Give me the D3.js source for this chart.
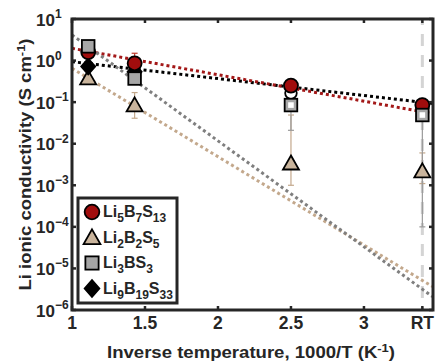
<!DOCTYPE html>
<html>
<head>
<meta charset="utf-8">
<script src="https://cdn.jsdelivr.net/npm/d3@7"></script>
<style>
  html, body { margin: 0; padding: 0; background: #fff; }
  svg { display: block; font-family: Arial, "Liberation Sans", Helvetica, sans-serif; font-weight: bold; }
</style>
</head>
<body>
<svg id="chart" width="435" height="363"></svg>
<script>
// x = 1000/T ; 900 K, 700 K, 400 K, RT
const xValues = [1.111, 1.429, 2.5, 3.4];
const xTicks = [1, 1.5, 2, 2.5, 3, 3.4];
const xTickLabels = ['1', '1.5', '2', '2.5', '3', 'RT'];
const yTicks = [1e-6, 1e-5, 1e-4, 1e-3, 1e-2, 1e-1, 1, 10];
const yTickExp = ['-6', '-5', '-4', '-3', '-2', '-1', '0', '1'];

// conductivity (S/cm) per material
const li5b7s13 = [1.6, 0.86, 0.25, 0.085];
const li2b2s5 = [0.38, 0.085, 0.0034, 0.0022];
const li3bs3 = [2.2, 0.37, 0.085, 0.049];
const li9b19s33 = [0.72, 0.54, 0.166, 0.062];

// error bar bounds (null = none)
const li5b7s13Lo = [null, null, null, null];
const li5b7s13Hi = [null, 1.5, null, null];
const li2b2s5Lo = [null, 0.041, 0.001, 0.0011];
const li2b2s5Hi = [null, 0.17, 0.049, 0.006];
const li3bs3Lo = [null, null, 0.021, 0.0001];
const li3bs3Hi = [null, null, 0.1, 0.06];

// measured at low temperature -> open face
const openFace = [false, false, true, true];

// Arrhenius fit lines (end points)
const fitX = [1, 3.47];
const fitLi5b7s13 = [1.97, 0.053];
const fitLi2b2s5 = [0.65, 3.66e-6];
const fitLi3bs3 = [4.15, 2.1e-6];
const fitLi9b19s33 = [0.94, 0.093];

const rtLine = 3.4;

const series = [
  { name: [['Li', ''], ['2', 'sub'], ['B', ''], ['2', 'sub'], ['S', ''], ['5', 'sub']], values: li2b2s5, lo: li2b2s5Lo, hi: li2b2s5Hi,
    fit: fitLi2b2s5, shape: 'triangle', fill: '#c9b49c', line: '#c3a88c', err: '#c3a88c' },
  { name: [['Li', ''], ['9', 'sub'], ['B', ''], ['19', 'sub'], ['S', ''], ['33', 'sub']], values: li9b19s33, lo: null, hi: null,
    fit: fitLi9b19s33, shape: 'diamond', fill: '#000000', line: '#000000', err: '#000' },
  { name: [['Li', ''], ['5', 'sub'], ['B', ''], ['7', 'sub'], ['S', ''], ['13', 'sub']], values: li5b7s13, lo: li5b7s13Lo, hi: li5b7s13Hi,
    fit: fitLi5b7s13, shape: 'circle', fill: '#a10d0d', line: '#a31818', err: '#c0392b' },
  { name: [['Li', ''], ['3', 'sub'], ['BS', ''], ['3', 'sub']], values: li3bs3, lo: li3bs3Lo, hi: li3bs3Hi,
    fit: fitLi3bs3, shape: 'square', fill: '#a6a6a6', line: '#7f7f7f', err: '#9a9a9a' }
];
const legendOrder = [2, 0, 3, 1];

const svg = d3.select('#chart');
const mLeft = 72, mRight = 433, mTop = 19, mBottom = 310;
const axisColor = '#262626';

const x = d3.scaleLinear().domain([1, 3.473]).range([mLeft, mRight]);
const y = d3.scaleLog().domain([1e-6, 10]).range([mBottom, mTop]);

svg.append('defs').append('clipPath').attr('id', 'plotclip')
  .append('rect').attr('x', mLeft).attr('y', mTop).attr('width', mRight - mLeft).attr('height', mBottom - mTop);

const plot = svg.append('g').attr('clip-path', 'url(#plotclip)');

// RT dashed marker
plot.append('line')
  .attr('x1', x(rtLine)).attr('x2', x(rtLine))
  .attr('y1', mTop).attr('y2', mBottom)
  .attr('stroke', '#d4d4d4').attr('stroke-width', 3)
  .attr('stroke-dasharray', '12,9').attr('stroke-dashoffset', 6);

// fit lines
const lineGen = d3.line().x(d => x(d[0])).y(d => y(d[1]));
series.forEach(s => {
  plot.append('path')
    .attr('d', lineGen(fitX.map((v, i) => [v, s.fit[i]])))
    .attr('fill', 'none')
    .attr('stroke', s.line)
    .attr('stroke-width', 3)
    .attr('stroke-dasharray', '3,3');
});

// error bars
series.forEach(s => {
  if (!s.lo) return;
  xValues.forEach((xv, i) => {
    if (s.lo[i] == null && s.hi[i] == null) return;
    const lo = s.lo[i] ?? s.values[i];
    const hi = s.hi[i] ?? s.values[i];
    const g = plot.append('g').attr('stroke', s.err).attr('stroke-width', 1.2);
    g.append('line').attr('x1', x(xv)).attr('x2', x(xv)).attr('y1', y(lo)).attr('y2', y(hi));
    if (s.lo[i] != null) g.append('line').attr('x1', x(xv) - 3).attr('x2', x(xv) + 3).attr('y1', y(lo)).attr('y2', y(lo));
    if (s.hi[i] != null) g.append('line').attr('x1', x(xv) - 3).attr('x2', x(xv) + 3).attr('y1', y(hi)).attr('y2', y(hi));
  });
});

function drawMarker(g, shape, cx, cy, fill, open, scale = 1) {
  let m;
  if (shape === 'circle') {
    m = g.append('circle').attr('cx', cx).attr('cy', cy).attr('r', 7 * scale).attr('fill', fill);
  } else if (shape === 'square') {
    const h = 6.3 * scale;
    m = g.append('rect').attr('x', cx - h).attr('y', cy - h).attr('width', 2 * h).attr('height', 2 * h).attr('fill', fill);
    if (open) {
      m.attr('stroke', '#000').attr('stroke-width', 1.8);
      g.append('rect').attr('x', cx - 2.8).attr('y', cy - 2.8).attr('width', 5.6).attr('height', 5.6).attr('fill', '#fff');
      return;
    }
  } else if (shape === 'triangle') {
    const w = 8 * scale, h = 14 * scale;
    m = g.append('path').attr('d', `M${cx},${cy - h * 0.55}L${cx + w},${cy + h * 0.45}L${cx - w},${cy + h * 0.45}Z`).attr('fill', fill);
  } else if (open) {
    m = g.append('circle').attr('cx', cx).attr('cy', cy).attr('r', 5.8 * scale).attr('fill', '#fff');
  } else {
    const w = 7 * scale, h = 8 * scale;
    m = g.append('path').attr('d', `M${cx},${cy - h}L${cx + w},${cy}L${cx},${cy + h}L${cx - w},${cy}Z`).attr('fill', fill);
  }
  m.attr('stroke', '#000').attr('stroke-width', 1.8);
}

// markers
const markG = svg.append('g');
series.forEach(s => {
  xValues.forEach((xv, i) => {
    drawMarker(markG, s.shape, x(xv), y(s.values[i]), s.fill, openFace[i]);
  });
});

// axes box
const axG = svg.append('g');
axG.append('rect')
  .attr('x', mLeft).attr('y', mTop).attr('width', mRight - mLeft).attr('height', mBottom - mTop)
  .attr('fill', 'none').attr('stroke', axisColor).attr('stroke-width', 3);

// ticks (inward)
const tl = 4;
xTicks.forEach((t, i) => {
  axG.append('line').attr('x1', x(t)).attr('x2', x(t)).attr('y1', mBottom).attr('y2', mBottom - tl).attr('stroke', axisColor).attr('stroke-width', 2.5);
  axG.append('line').attr('x1', x(t)).attr('x2', x(t)).attr('y1', mTop).attr('y2', mTop + tl).attr('stroke', axisColor).attr('stroke-width', 2.5);
  axG.append('text').attr('x', x(t)).attr('y', 329).attr('text-anchor', 'middle')
    .attr('font-size', 17.5).attr('fill', axisColor).text(xTickLabels[i]);
});
yTicks.forEach((t, i) => {
  axG.append('line').attr('x1', mLeft).attr('x2', mLeft + tl).attr('y1', y(t)).attr('y2', y(t)).attr('stroke', axisColor).attr('stroke-width', 2.5);
  axG.append('line').attr('x1', mRight).attr('x2', mRight - tl).attr('y1', y(t)).attr('y2', y(t)).attr('stroke', axisColor).attr('stroke-width', 2.5);
  const tx = axG.append('text').attr('x', 36).attr('y', y(t) + 6.5)
    .attr('font-size', 17).attr('fill', axisColor);
  tx.append('tspan').text('10');
  tx.append('tspan').attr('dy', -7.5).attr('font-size', 12).text(yTickExp[i].replace('-', '\u2212'));
});

// axis titles
const xt = svg.append('text').attr('x', 251).attr('y', 358).attr('text-anchor', 'middle')
  .attr('font-size', 16.5).attr('fill', axisColor)
  .attr('textLength', 288).attr('lengthAdjust', 'spacingAndGlyphs');
xt.append('tspan').text('Inverse temperature, 1000/T (K');
xt.append('tspan').attr('dy', -6.5).attr('font-size', 11.5).text('-1');
xt.append('tspan').attr('dy', 6.5).text(')');

const yt = svg.append('text').attr('transform', `translate(31,${(mTop + mBottom) / 2}) rotate(-90)`)
  .attr('text-anchor', 'middle').attr('font-size', 16.5).attr('fill', axisColor)
  .attr('textLength', 252).attr('lengthAdjust', 'spacingAndGlyphs');
yt.append('tspan').text('Li ionic conductivity (S cm');
yt.append('tspan').attr('dy', -6.5).attr('font-size', 11.5).text('-1');
yt.append('tspan').attr('dy', 6.5).text(')');

// legend
const lg = svg.append('g');
lg.append('rect').attr('x', 78).attr('y', 198).attr('width', 99).attr('height', 105)
  .attr('fill', '#fff').attr('stroke', axisColor).attr('stroke-width', 3);
legendOrder.forEach((si, k) => {
  const s = series[si];
  const cy = 212 + k * 25.5;
  drawMarker(lg, s.shape, 92, cy, s.fill, false, 1.05);
  const t = lg.append('text').attr('x', 103).attr('y', cy + 5).attr('font-size', 16).attr('fill', axisColor);
  s.name.forEach(([txt, kind], j) => {
    const prev = j > 0 ? s.name[j - 1][1] : '';
    const sp = t.append('tspan').text(txt);
    if (kind === 'sub') sp.attr('dy', prev === 'sub' ? 0 : 5).attr('font-size', 12);
    else if (prev === 'sub') sp.attr('dy', -5);
  });
});
</script>
</body>
</html>
